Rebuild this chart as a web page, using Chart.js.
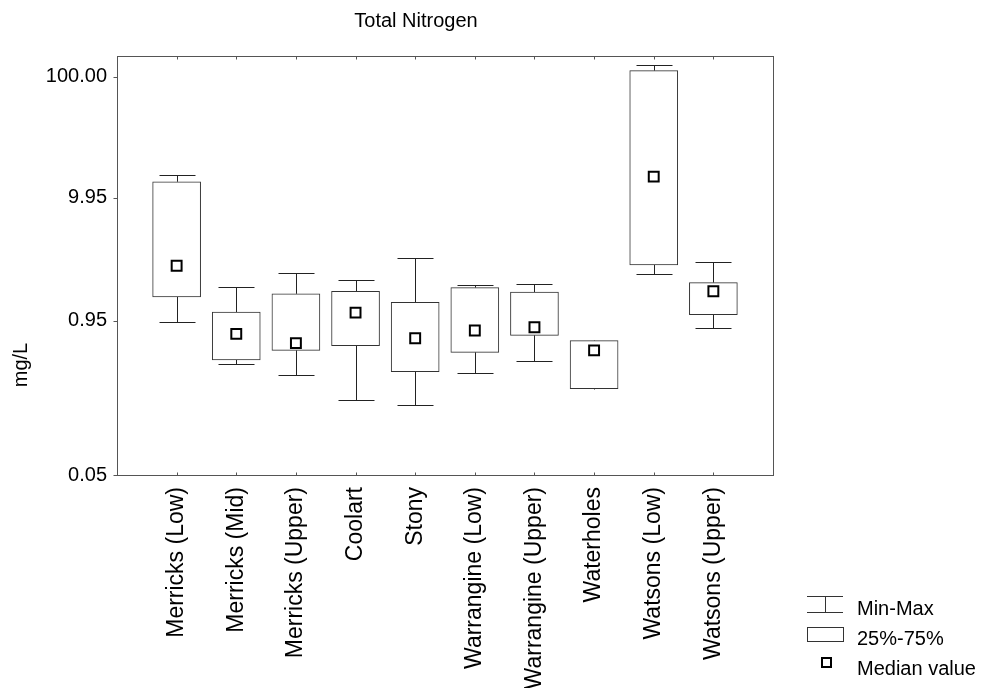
<!DOCTYPE html>
<html>
<head>
<meta charset="utf-8">
<title>Total Nitrogen</title>
<script src="https://cdn.jsdelivr.net/npm/chart.js"></script>
<style>
body { margin: 0; background: #fff; }
#wrap { width: 981px; height: 688px; }
</style>
</head>
<body>
<div id="wrap"><canvas id="chart1" width="981" height="688"></canvas></div>
<script>
// sites
var categories = ['Merricks (Low)', 'Merricks (Mid)', 'Merricks (Upper)', 'Coolart', 'Stony',
    'Warrangine (Low)', 'Warrangine (Upper)', 'Waterholes', 'Watsons (Low)', 'Watsons (Upper)'];
// mg/L
var minVals  = [0.92, 0.42, 0.34, 0.21, 0.19, 0.35, 0.44, 0.26, 2.33, 0.82];
var q1Vals   = [1.50, 0.45, 0.54, 0.59, 0.36, 0.52, 0.72, 0.26, 2.76, 1.07];
var medVals  = [2.72, 0.74, 0.62, 1.11, 0.68, 0.79, 0.84, 0.54, 14.9, 1.67];
var q3Vals   = [13.5, 1.12, 1.59, 1.67, 1.35, 1.79, 1.64, 0.65, 112.6, 1.97];
var maxVals  = [15.4, 1.82, 2.35, 2.08, 3.15, 1.88, 1.93, 0.65, 124.8, 2.92];
var yTicks = [0.05, 0.95, 9.95, 100];

var FONT = "'Liberation Sans', Arial, Helvetica, sans-serif";
Chart.defaults.font.family = FONT;
Chart.defaults.color = '#000';

function line(ctx, x1, y1, x2, y2) {
    ctx.beginPath();
    ctx.moveTo(x1, y1);
    ctx.lineTo(x2, y2);
    ctx.stroke();
}

// whiskers, frame, titles and legend
var boxExtras = {
    id: 'boxExtras',
    beforeDatasetsDraw: function(chart) {
        var ctx = chart.ctx, x = chart.scales.x, y = chart.scales.y;
        ctx.save();
        ctx.strokeStyle = '#222';
        ctx.lineWidth = 1;
        for (var i = 0; i < categories.length; i++) {
            var px = Math.round(x.getPixelForValue(i)) + 0.5;
            var yMin = Math.round(y.getPixelForValue(minVals[i])) + 0.5;
            var yMax = Math.round(y.getPixelForValue(maxVals[i])) + 0.5;
            line(ctx, px, yMin, px, y.getPixelForValue(q1Vals[i]));
            line(ctx, px, yMax, px, y.getPixelForValue(q3Vals[i]));
            if (minVals[i] < q1Vals[i]) line(ctx, px - 18, yMin, px + 18, yMin);
            if (maxVals[i] > q3Vals[i]) line(ctx, px - 18, yMax, px + 18, yMax);
        }
        ctx.restore();
    },
    afterDraw: function(chart) {
        var ctx = chart.ctx, a = chart.chartArea, x = chart.scales.x, y = chart.scales.y;
        var l = Math.round(a.left) + 0.5, r = Math.round(a.right) + 0.5;
        var t = Math.round(a.top) + 0.5, b = Math.round(a.bottom) + 0.5;
        ctx.save();
        ctx.lineWidth = 1;
        ctx.strokeStyle = '#555';
        ctx.strokeRect(l, t, r - l, b - t);
        // tick marks
        for (var i = 0; i < categories.length; i++) {
            var px = Math.round(x.getPixelForValue(i)) + 0.5;
            line(ctx, px, t, px, t + 3);
            line(ctx, px, b, px, b - 3);
        }
        yTicks.forEach(function(v) {
            var py = Math.round(y.getPixelForValue(v)) + 0.5;
            line(ctx, l, py, l - 4, py);
        });

        ctx.fillStyle = '#000';
        ctx.font = '20px ' + FONT;
        ctx.textAlign = 'center';
        ctx.textBaseline = 'middle';
        ctx.fillText('Total Nitrogen', 416, 21);

        ctx.save();
        ctx.translate(21, 365);
        ctx.rotate(-Math.PI / 2);
        ctx.fillText('mg/L', 0, 0);
        ctx.restore();

        // legend
        ctx.strokeStyle = '#333';
        line(ctx, 807, 596.5, 843, 596.5);
        line(ctx, 807, 612.5, 843, 612.5);
        line(ctx, 825.5, 596.5, 825.5, 612.5);
        ctx.strokeRect(807.5, 627.5, 36, 14);
        ctx.lineWidth = 2;
        ctx.strokeStyle = '#000';
        ctx.strokeRect(822, 658, 9, 9);
        ctx.textAlign = 'left';
        ctx.fillText('Min-Max', 857, 609);
        ctx.fillText('25%-75%', 857, 639);
        ctx.fillText('Median value', 857, 669);
        ctx.restore();
    }
};

var ctx = document.getElementById('chart1').getContext('2d');
var chart = new Chart(ctx, {
    type: 'bar',
    data: {
        datasets: [{
            type: 'scatter',
            label: 'Median value',
            data: categories.map(function(c, i) { return {x: i, y: medVals[i]}; }),
            pointStyle: 'rect',
            pointRadius: 7,
            pointBorderWidth: 2,
            pointBackgroundColor: '#fff',
            pointBorderColor: '#000',
            order: 0
        }, {
            label: '25%-75%',
            data: categories.map(function(c, i) { return {x: i, y: [q1Vals[i], q3Vals[i]]}; }),
            backgroundColor: '#fff',
            borderColor: '#333',
            borderWidth: 1,
            borderSkipped: false,
            barThickness: 48,
            order: 1
        }]
    },
    options: {
        responsive: false,
        animation: false,
        devicePixelRatio: 1,
        layout: { padding: { top: 56, right: 208, bottom: 0, left: 0 } },
        plugins: {
            legend: { display: false },
            title: { display: false },
            tooltip: { enabled: false }
        },
        scales: {
            x: {
                type: 'linear',
                min: -1,
                max: 10,
                offset: false,
                grid: { display: false, drawTicks: false },
                border: { display: false },
                afterBuildTicks: function(scale) {
                    scale.ticks = categories.map(function(c, i) { return {value: i}; });
                },
                afterFit: function(scale) { scale.height = 213; },
                ticks: {
                    autoSkip: false,
                    minRotation: 90,
                    maxRotation: 90,
                    padding: 12,
                    font: { size: 23 },
                    callback: function(v) { return categories[v]; }
                }
            },
            y: {
                type: 'logarithmic',
                min: 0.05,
                max: 149,
                grid: { display: false, drawTicks: false },
                border: { display: false },
                afterBuildTicks: function(scale) {
                    scale.ticks = yTicks.map(function(v) { return {value: v}; });
                },
                afterFit: function(scale) { scale.width = 117; },
                ticks: {
                    padding: 10,
                    font: { size: 20 },
                    callback: function(v) { return Number(v).toFixed(2); }
                }
            }
        }
    },
    plugins: [boxExtras]
});
</script>
</body>
</html>
